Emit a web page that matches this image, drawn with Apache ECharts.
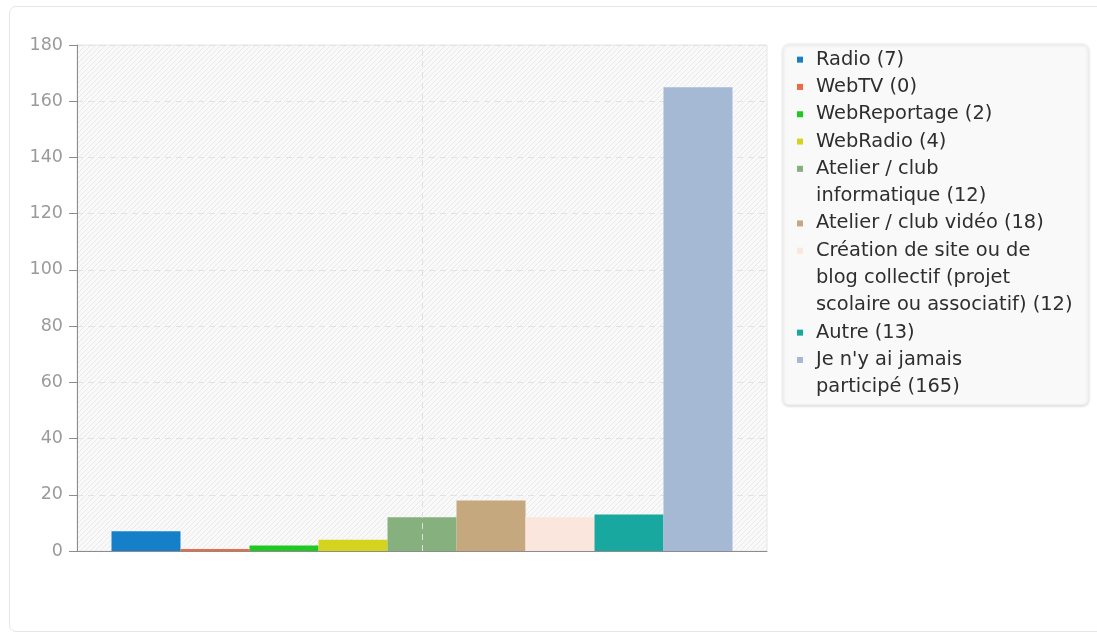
<!DOCTYPE html>
<html>
<head>
<meta charset="utf-8">
<script src="https://cdn.jsdelivr.net/npm/echarts@6/dist/echarts.min.js"></script>
<style>
  html, body { margin: 0; padding: 0; background: #fff; }
  #card { position: absolute; left: 9px; top: 6px; width: 1100px; height: 626px; border: 1px solid #e6e6e6; border-radius: 7px; box-sizing: border-box; }
  #chart { position: absolute; left: 0; top: 0; width: 1097px; height: 633px; }
</style>
</head>
<body>
<div id="card"></div>
<div id="chart"></div>
<script>
// ---- data ----
const seriesNames = [
  "Radio", "WebTV", "WebReportage", "WebRadio", "Atelier / club informatique",
  "Atelier / club vidéo", "Création de site ou de blog collectif (projet scolaire ou associatif)",
  "Autre", "Je n'y ai jamais participé"
];
const legendLabels = [
  "Radio (7)", "WebTV (0)", "WebReportage (2)", "WebRadio (4)", "Atelier / club\ninformatique (12)",
  "Atelier / club vidéo (18)", "Création de site ou de\nblog collectif (projet\nscolaire ou associatif) (12)",
  "Autre (13)", "Je n'y ai jamais\nparticipé (165)"
];
const seriesValues = [7, 0, 2, 4, 12, 18, 12, 13, 165];
const seriesColors = ["#1580c9", "#ee6a44", "#22c822", "#d4d41e", "#86b07e", "#c6a87e", "#fbe6dd", "#18a8a0", "#a6b9d4"];
const yTicks = [0, 20, 40, 60, 80, 100, 120, 140, 160, 180];
const category = [""];

// hatched background pattern
const pc = document.createElement('canvas');
pc.width = 5; pc.height = 5;
const pctx = pc.getContext('2d');
const img = pctx.createImageData(5, 5);
for (let y = 0; y < 5; y++) {
  for (let x = 0; x < 5; x++) {
    const i = (y * 5 + x) * 4;
    const stripe = (x + y) % 5 === 0;
    const v = stripe ? 234 : 249;
    img.data[i] = v; img.data[i + 1] = v; img.data[i + 2] = v; img.data[i + 3] = 255;
  }
}
pctx.putImageData(img, 0, 0);

const FS = 19.4, LH = 27.3;
const rich = {
  t: { fontFamily: 'DejaVu Sans', fontSize: FS, lineHeight: LH, color: '#2e2e2e', padding: [0, 0, 0, 13] },
  t2: { fontFamily: 'DejaVu Sans', fontSize: FS, lineHeight: LH, color: '#2e2e2e', padding: [0, 0, 0, 19] }
};
seriesColors.forEach((c, i) => {
  rich['ic' + i] = { width: 6, height: 6, backgroundColor: c, verticalAlign: 'middle' };
});

const chart = echarts.init(document.getElementById('chart'), null, { renderer: 'canvas' });
const series = seriesNames.map((name, i) => ({
  name: name,
  type: 'bar',
  data: [seriesValues[i]],
  barGap: '0%',
  barCategoryGap: '10%',
  barMinHeight: 2,
  itemStyle: { color: seriesColors[i] },
  emphasis: { disabled: true }
}));
// vertical dashed guide through the category centre
series.push({
  name: 'guide',
  type: 'line',
  data: ['-'],
  silent: true,
  symbol: 'none',
  markLine: {
    silent: true,
    symbol: ['none', 'none'],
    label: { show: false },
    lineStyle: { type: [6, 5], color: '#e0e0e0', width: 1 },
    data: [{ xAxis: 0 }]
  }
});

chart.setOption({
  animation: false,
  textStyle: { fontFamily: 'DejaVu Sans' },
  grid: {
    left: 77, top: 45, right: 330, bottom: 82,
    show: true,
    backgroundColor: { image: pc, repeat: 'repeat' },
    borderColor: '#e6e6e6', borderWidth: 1
  },
  legend: {
    orient: 'vertical',
    left: 783, top: 44,
    padding: [2, 16, 4, 9],
    itemGap: 0,
    itemWidth: 0, itemHeight: 0,
    icon: 'rect',
    itemStyle: { opacity: 0, borderWidth: 0 },
    backgroundColor: '#f9f9f9',
    borderColor: '#eeeeee', borderWidth: 1,
    borderRadius: 6,
    shadowBlur: 3, shadowColor: 'rgba(0,0,0,0.15)', shadowOffsetY: 1,
    formatter: (n) => {
      const idx = seriesNames.indexOf(n);
      return legendLabels[idx].split('\n').map((l, j) =>
        j === 0 ? '{ic' + idx + '|}{t|' + l + '}' : '{t2|' + l + '}'
      ).join('\n');
    },
    textStyle: { fontFamily: 'DejaVu Sans', fontSize: FS, lineHeight: LH, color: '#2e2e2e', rich: rich },
    selectedMode: false,
    data: seriesNames
  },
  xAxis: {
    type: 'category',
    data: category,
    axisLine: { lineStyle: { color: '#8c8c8c', width: 1 } },
    axisTick: { show: false },
    axisLabel: { show: false },
    splitLine: { show: false }
  },
  yAxis: {
    type: 'value',
    min: yTicks[0], max: yTicks[yTicks.length - 1], interval: 20,
    axisLine: { show: true, lineStyle: { color: '#8c8c8c', width: 1 } },
    axisTick: { show: true, length: 8, lineStyle: { color: '#8c8c8c' } },
    axisLabel: { color: '#9a9a9a', fontSize: 17.5, margin: 14, fontFamily: 'DejaVu Sans' },
    splitLine: { show: true, lineStyle: { type: [6, 5], color: '#e2e2e2', width: 1 } }
  },
  series: series
});
</script>
</body>
</html>
